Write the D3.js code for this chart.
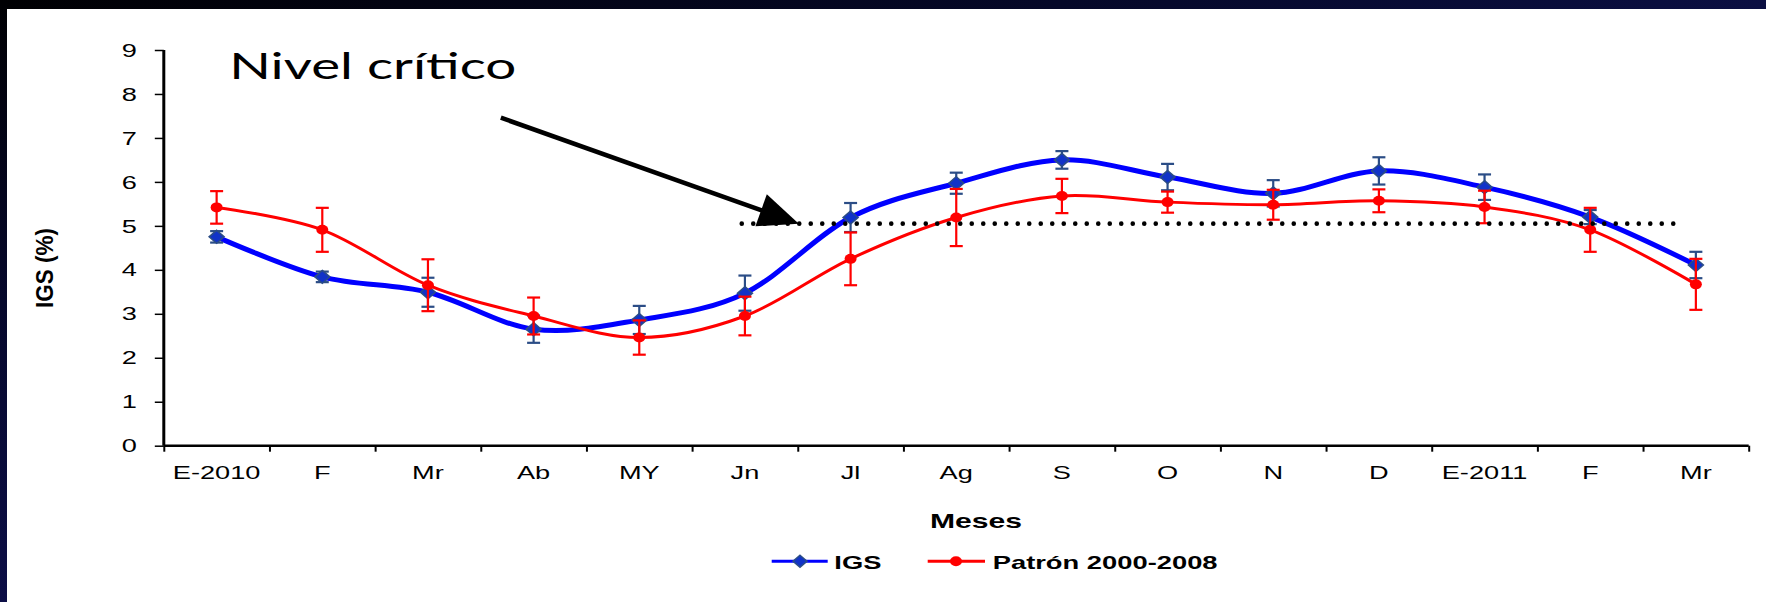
<!DOCTYPE html>
<html><head><meta charset="utf-8">
<script src="https://cdn.jsdelivr.net/npm/d3@7/dist/d3.min.js"></script>
<style>
html,body{margin:0;padding:0;background:#fff;overflow:hidden;}
svg{display:block;}
</style></head>
<body>
<svg id="chart" width="1766" height="602"></svg>
<script>
// ---------- data ----------
const months = ["E-2010","F","Mr","Ab","MY","Jn","Jl","Ag","S","O","N","D","E-2011","F","Mr"];
const igs       = [4.75, 3.84, 3.49, 2.65, 2.86, 3.47, 5.19, 5.97, 6.50, 6.11, 5.74, 6.25, 5.88, 5.20, 4.11];
const igsErr    = [0.13, 0.12, 0.33, 0.31, 0.32, 0.40, 0.33, 0.24, 0.20, 0.30, 0.30, 0.31, 0.29, 0.16, 0.30];
const patron    = [5.42, 4.91, 3.65, 2.95, 2.46, 2.95, 4.25, 5.19, 5.68, 5.54, 5.48, 5.57, 5.43, 4.91, 3.67];
const patronErr = [0.37, 0.50, 0.59, 0.42, 0.39, 0.44, 0.60, 0.65, 0.39, 0.24, 0.34, 0.26, 0.37, 0.50, 0.58];
const yTicks = [0,1,2,3,4,5,6,7,8,9];
const seriesNames = ["IGS", "Patrón 2000-2008"];
const criticalLevel = 5.05;
const criticalSpan = [4.97, 13.86];          // month-index range of the dotted line
const annotationText = "Nivel crítico";
const annotationAt = [0.12, 8.34];           // [month index, value]
const arrowTail = [2.69, 7.46];              // [month index, value]
const arrowTip  = [5.51, 5.05];

// ---------- setup ----------
const W = 1766, H = 602;
const svg = d3.select("#chart");
const S = 1.47; // horizontal stretch of the original picture's text

svg.append("rect").attr("x",0).attr("y",0).attr("width",W).attr("height",H).attr("fill","#fff");
const defs = svg.append("defs");
const gTop = defs.append("linearGradient").attr("id","frameTop").attr("x1","0").attr("y1","0").attr("x2","1").attr("y2","0");
gTop.append("stop").attr("offset","0").attr("stop-color","#000003");
gTop.append("stop").attr("offset","0.6").attr("stop-color","#050828");
gTop.append("stop").attr("offset","1").attr("stop-color","#0b0f42");
const gLeft = defs.append("linearGradient").attr("id","frameLeft").attr("x1","0").attr("y1","0").attr("x2","0").attr("y2","1");
gLeft.append("stop").attr("offset","0").attr("stop-color","#000003");
gLeft.append("stop").attr("offset","0.5").attr("stop-color","#06082c");
gLeft.append("stop").attr("offset","1").attr("stop-color","#0c0e46");
svg.append("rect").attr("x",0).attr("y",0).attr("width",W).attr("height",9).attr("fill","url(#frameTop)");
svg.append("rect").attr("x",0).attr("y",0).attr("width",7).attr("height",H).attr("fill","url(#frameLeft)");

const pL = 163.8, pR = 1748.7, pT = 50, pB = 445.7;
const x = d3.scaleLinear().domain([-0.5, months.length - 0.5]).range([pL, pR]);
const y = d3.scaleLinear().domain([0, 9]).range([pB, pT]);

function stext(parent, px, py, txt, anchor, size, weight, family) {
  return parent.append("text")
    .attr("transform", `translate(${px},${py}) scale(${S},1)`)
    .attr("text-anchor", anchor)
    .attr("font-family", family || "'Liberation Sans', Arial, sans-serif")
    .attr("font-size", size)
    .attr("font-weight", weight || "normal")
    .attr("fill", "#000")
    .text(txt);
}

// ---------- axes ----------
const yAxis = svg.append("g").attr("transform", `translate(${pL},0)`)
  .call(d3.axisLeft(y).tickValues(yTicks).tickSize(9).tickFormat(""));
yAxis.select(".domain").attr("stroke","#000").attr("stroke-width",3).attr("d", `M0,${pT}V${pB}`);
yAxis.selectAll(".tick line").attr("stroke","#000").attr("stroke-width",1.5);

const xAxis = svg.append("g").attr("transform", `translate(0,${pB})`)
  .call(d3.axisBottom(x).tickValues(d3.range(-0.5, months.length, 1)).tickSize(6).tickFormat(""));
xAxis.select(".domain").attr("stroke","#000").attr("stroke-width",2.5).attr("d", `M${pL},0H${pR}`);
xAxis.selectAll(".tick line").attr("stroke","#000").attr("stroke-width",2);

yTicks.forEach(t => {
  stext(svg, 137, y(t), t, "end", 18.5).attr("dy","0.36em");
});
months.forEach((m, i) => {
  stext(svg, x(i), 479, m, "middle", 18.5);
});

// axis titles
svg.append("text")
  .attr("transform", `translate(53,268) rotate(-90) scale(1,1.3)`)
  .attr("text-anchor","middle")
  .attr("font-family","'Liberation Sans', Arial, sans-serif")
  .attr("font-size",19).attr("font-weight","bold")
  .attr("textLength",80).attr("lengthAdjust","spacingAndGlyphs")
  .text("IGS (%)");
stext(svg, 976, 527.5, "Meses", "middle", 20.5, "bold");

// ---------- series ----------
const curve = d3.curveCardinal.tension(0);
const line = d3.line().x((d,i) => x(i)).y(d => y(d)).curve(curve);

function errorBars(vals, errs, color, width) {
  const g = svg.append("g").attr("stroke", color).attr("stroke-width", width).attr("fill","none");
  vals.forEach((v, i) => {
    const cx = x(i), y1 = y(v + errs[i]), y2 = y(v - errs[i]);
    g.append("line").attr("x1",cx).attr("x2",cx).attr("y1",y1).attr("y2",y2);
    g.append("line").attr("x1",cx-6.5).attr("x2",cx+6.5).attr("y1",y1).attr("y2",y1);
    g.append("line").attr("x1",cx-6.5).attr("x2",cx+6.5).attr("y1",y2).attr("y2",y2);
  });
}

const diamond = (cx, cy, hw, hh) => `M${cx},${cy-hh}L${cx+hw},${cy}L${cx},${cy+hh}L${cx-hw},${cy}Z`;

// IGS
svg.append("path").datum(igs).attr("d", line).attr("fill","none").attr("stroke","#0000ff").attr("stroke-width",5);
errorBars(igs, igsErr, "#2b4d86", 2.2);
svg.append("g").selectAll("path").data(igs).join("path")
  .attr("d", (d,i) => diamond(x(i), y(d), 7.5, 6.5))
  .attr("fill","#1133c8").attr("stroke","#2b4d86").attr("stroke-width",1.5);

// Patrón
svg.append("path").datum(patron).attr("d", line).attr("fill","none").attr("stroke","#ff0000").attr("stroke-width",3);
errorBars(patron, patronErr, "#ff0000", 2.2);
svg.append("g").selectAll("ellipse").data(patron).join("ellipse")
  .attr("cx",(d,i)=>x(i)).attr("cy",d=>y(d)).attr("rx",6).attr("ry",5)
  .attr("fill","#ff0000");

// ---------- critical level ----------
svg.append("line")
  .attr("x1", x(criticalSpan[0])).attr("x2", x(criticalSpan[1]))
  .attr("y1", y(criticalLevel)).attr("y2", y(criticalLevel))
  .attr("stroke","#000").attr("stroke-width",4.6).attr("stroke-linecap","round")
  .attr("stroke-dasharray","0 11.5");

// arrow
{
  const tx = x(arrowTail[0]), ty = y(arrowTail[1]);
  const hx = x(arrowTip[0]), hy = y(arrowTip[1]);
  const len = Math.hypot(hx - tx, hy - ty);
  const ux = (hx - tx) / len, uy = (hy - ty) / len;
  const headL = 40, headW = 17;
  const bx = hx - ux * headL, by = hy - uy * headL;
  svg.append("line").attr("x1",tx).attr("y1",ty).attr("x2",bx + ux*2).attr("y2",by + uy*2)
    .attr("stroke","#000").attr("stroke-width",4.5);
  svg.append("path")
    .attr("d", `M${hx},${hy}L${bx - uy*headW},${by + ux*headW}L${bx + uy*headW},${by - ux*headW}Z`)
    .attr("fill","#000");
}

// annotation
svg.append("text")
  .attr("x", x(annotationAt[0])).attr("y", y(annotationAt[1]))
  .attr("font-family","Lato, 'Open Sans', sans-serif")
  .attr("font-size",36)
  .attr("textLength",287).attr("lengthAdjust","spacingAndGlyphs")
  .text(annotationText);

// ---------- legend ----------
const lg = svg.append("g");
lg.append("line").attr("x1",771.7).attr("x2",827.7).attr("y1",561.3).attr("y2",561.3).attr("stroke","#0000ff").attr("stroke-width",3);
lg.append("path").attr("d", diamond(800, 561.3, 7, 6)).attr("fill","#1133c8").attr("stroke","#2b4d86").attr("stroke-width",1.5);
stext(lg, 834.3, 569.3, seriesNames[0], "start", 18.6, "bold");
lg.append("line").attr("x1",927.7).attr("x2",985).attr("y1",561.3).attr("y2",561.3).attr("stroke","#ff0000").attr("stroke-width",3);
lg.append("ellipse").attr("cx",956).attr("cy",561.3).attr("rx",6).attr("ry",5).attr("fill","#ff0000");
stext(lg, 992.7, 569.3, seriesNames[1], "start", 18.6, "bold");
</script>
</body></html>
